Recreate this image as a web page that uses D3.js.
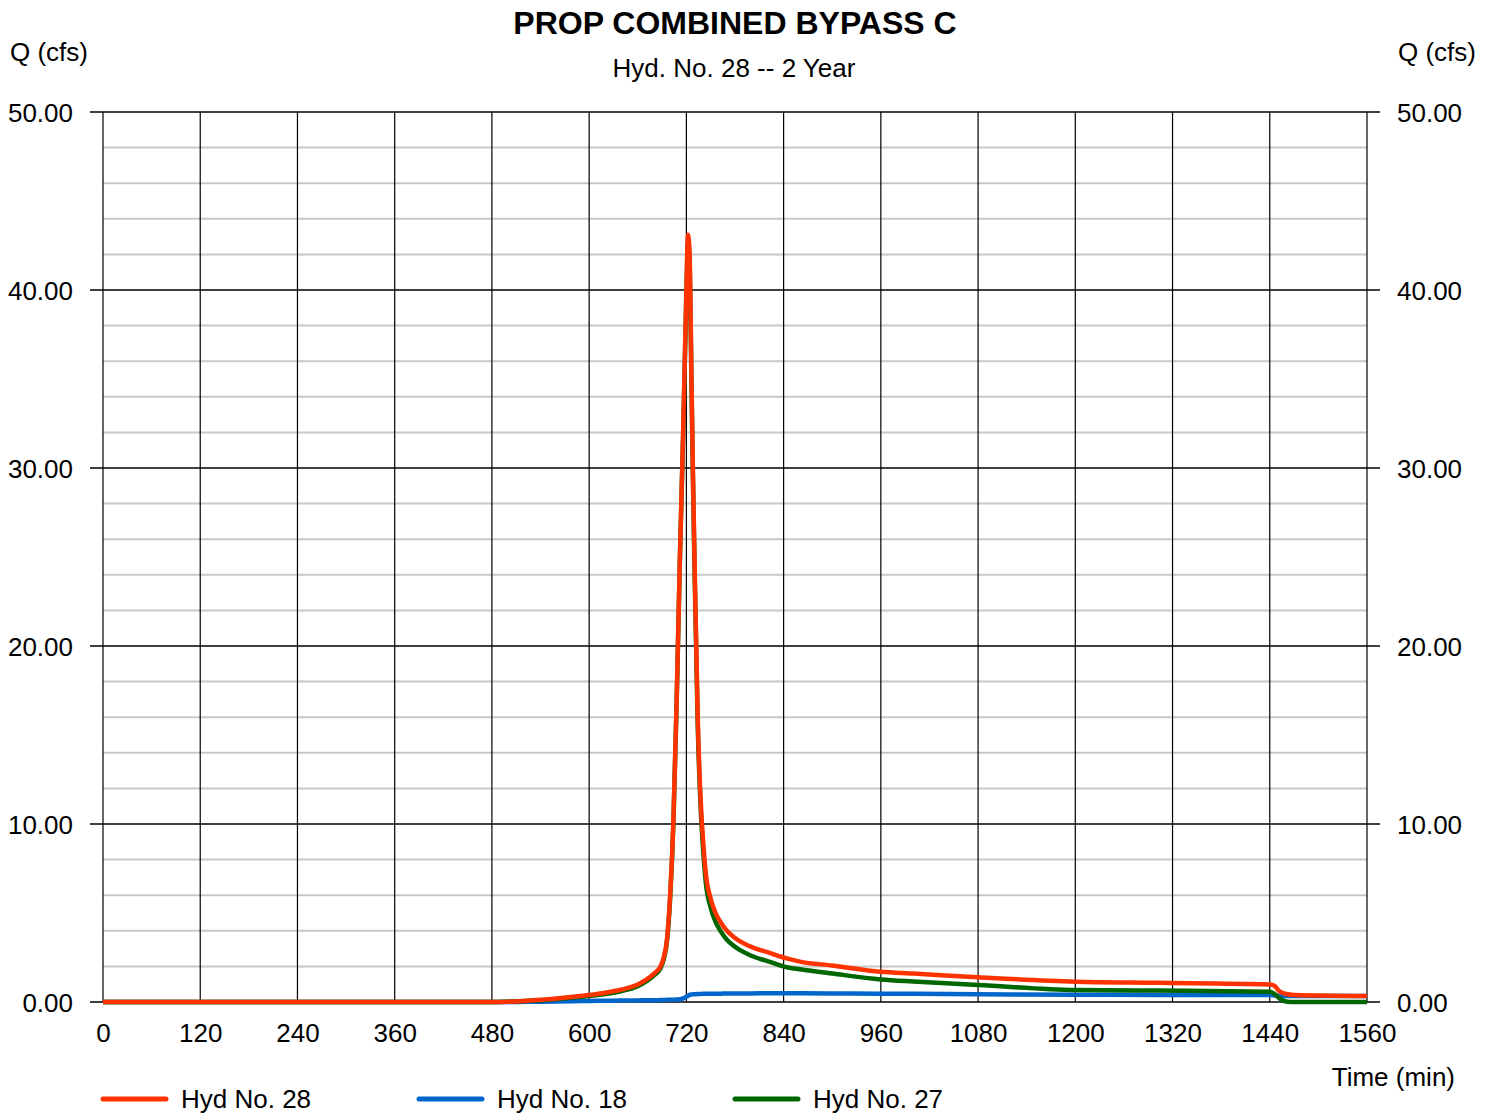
<!DOCTYPE html>
<html><head><meta charset="utf-8">
<script src="https://cdn.jsdelivr.net/npm/d3@7"></script>
<style>body{margin:0;background:#fff}svg{display:block;font-family:Arial,"Liberation Sans",sans-serif}</style>
</head><body><svg id="c" width="1496" height="1114"></svg>
<script>
const title = "PROP COMBINED BYPASS C";
const subtitle = "Hyd. No. 28 -- 2 Year";
const xTicks = [0,120,240,360,480,600,720,840,960,1080,1200,1320,1440,1560];
const yTicks = [0,10,20,30,40,50];
const yMinor = d3.range(0, 50.01, 2);
const seriesNames = ["Hyd No. 28","Hyd No. 18","Hyd No. 27"];
const seriesColors = ["#ff3300","#0066cc","#006600"];
const times = [0,480,500,520,540,560,580,600,620,640,660,670,680,688,692,696,700,704,708,712,716,720,722,724,726,728,730,734,738,740,744,750,756,762,770,780,800,820,844,860,900,960,1000,1080,1200,1300,1440,1446,1452,1460,1470,1560];
const hyd28 = [0,0,0.02,0.06,0.12,0.2,0.29,0.39,0.52,0.7,0.98,1.24,1.6,2.0,2.5,3.5,6,10.2,17,25,32,40,43.1,42,36,30,25,16,11,9.5,7.2,5.8,5.0,4.5,4.0,3.6,3.1,2.8,2.45,2.27,2.05,1.70,1.6,1.39,1.14,1.08,0.99,0.9,0.6,0.45,0.40,0.34];
const hyd18 = [0,0,0,0.01,0.02,0.03,0.04,0.06,0.07,0.08,0.09,0.1,0.1,0.11,0.11,0.12,0.12,0.13,0.14,0.15,0.2,0.3,0.35,0.4,0.42,0.43,0.44,0.45,0.45,0.46,0.46,0.47,0.47,0.47,0.48,0.48,0.48,0.49,0.49,0.49,0.48,0.47,0.46,0.43,0.41,0.40,0.39,0.37,0.35,0.34,0.34,0.34];
const hyd27 = [0,0,0.02,0.05,0.1,0.17,0.25,0.33,0.45,0.62,0.89,1.14,1.5,1.89,2.39,3.38,5.88,10.07,16.86,24.85,31.8,39.7,42.75,41.6,35.58,29.57,24.56,15.55,10.55,9.0,6.7,5.3,4.5,4.0,3.5,3.1,2.6,2.3,1.95,1.84,1.6,1.27,1.15,0.96,0.67,0.64,0.58,0.45,0.2,0.03,0,0];

const FS = 26;
const svg = d3.select("#c");
const L = 103, R = 1367, T = 112, B = 1002;
const x = d3.scaleLinear().domain([0,1560]).range([L,R]);
const y = d3.scaleLinear().domain([0,50]).range([B,T]);

// minor gridlines
svg.append("g").selectAll("line").data(yMinor.filter(v => v % 10 !== 0)).join("line")
  .attr("x1", L).attr("x2", R).attr("y1", d => y(d)).attr("y2", d => y(d))
  .attr("stroke", "#c8c8c8").attr("stroke-width", 2);
// vertical grid
svg.append("g").selectAll("line").data(xTicks).join("line")
  .attr("x1", d => x(d)).attr("x2", d => x(d)).attr("y1", T).attr("y2", B)
  .attr("stroke", "#000").attr("stroke-width", 1.2);
// major horizontal with ticks outside
svg.append("g").selectAll("line").data(yTicks).join("line")
  .attr("x1", L - 13).attr("x2", R + 13).attr("y1", d => y(d)).attr("y2", d => y(d))
  .attr("stroke", "#000").attr("stroke-width", 1.4);

// axes labels via d3 axes (text only)
const yl = svg.append("g").attr("transform", `translate(${L-27},0)`).call(d3.axisLeft(y).tickValues(yTicks).tickFormat(d3.format(".2f")).tickSize(0));
const yr = svg.append("g").attr("transform", `translate(${R+27},0)`).call(d3.axisRight(y).tickValues(yTicks).tickFormat(d3.format(".2f")).tickSize(0));
const xa = svg.append("g").attr("transform", `translate(0,${B})`).call(d3.axisBottom(x).tickValues(xTicks).tickFormat(d3.format("d")).tickSize(0));
[yl,yr,xa].forEach(g => { g.select(".domain").remove(); g.selectAll("text").attr("font-size", FS).attr("fill","#000").attr("font-family","Arial, 'Liberation Sans', sans-serif"); });
yl.selectAll("text").attr("dy","0.36em");
yr.selectAll("text").attr("dy","0.36em");
xa.selectAll("text").attr("y", 40).attr("dy", 0);

// lines
const line = vals => d3.line().x((d,i) => x(times[i])).y(d => y(d)).curve(d3.curveMonotoneX)(vals);
const order = [[hyd18,1],[hyd27,2],[hyd28,0]];
order.forEach(([vals,ci]) => {
  svg.append("path").attr("d", line(vals)).attr("fill","none")
    .attr("stroke", seriesColors[ci]).attr("stroke-width", 4.5).attr("stroke-linejoin","round");
});

// titles
svg.append("text").attr("x",735).attr("y",34).attr("text-anchor","middle").attr("font-size",32).attr("font-weight","bold").text(title);
svg.append("text").attr("x",734).attr("y",77).attr("text-anchor","middle").attr("font-size",FS).text(subtitle);
svg.append("text").attr("x",10).attr("y",61).attr("font-size",FS).text("Q (cfs)");
svg.append("text").attr("x",1476).attr("y",61).attr("text-anchor","end").attr("font-size",FS).text("Q (cfs)");
svg.append("text").attr("x",1455).attr("y",1086).attr("text-anchor","end").attr("font-size",FS).text("Time (min)");

// legend
const lx = [103, 419, 735];
seriesNames.forEach((n,i) => {
  svg.append("line").attr("x1", lx[i]).attr("x2", lx[i]+63).attr("y1",1099).attr("y2",1099)
    .attr("stroke", seriesColors[i]).attr("stroke-width",5).attr("stroke-linecap","round");
  svg.append("text").attr("x", lx[i]+78).attr("y",1108).attr("font-size",FS).text(n);
});
</script></body></html>
